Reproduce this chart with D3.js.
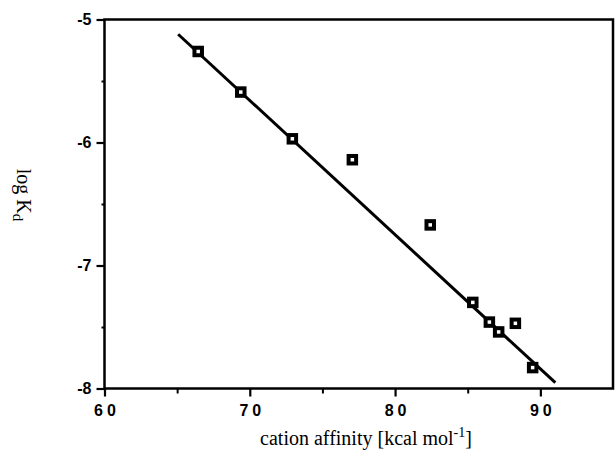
<!DOCTYPE html>
<html>
<head>
<meta charset="utf-8">
<script src="https://cdn.jsdelivr.net/npm/d3@7"></script>
<style>
  html, body { margin: 0; padding: 0; background: #fff; }
  svg { display: block; }
</style>
</head>
<body>
<script>
// ---- data ----
const cationAffinity = [66.45, 69.38, 72.93, 77.06, 82.42, 85.35, 86.49, 87.13, 88.28, 89.47];
const logKd          = [-5.26, -5.59, -5.97, -6.14, -6.67, -7.30, -7.46, -7.54, -7.47, -7.83];
const fitX = [65.07, 91.03];
const fitY = [-5.12, -7.953];
const xTicks = [60, 70, 80, 90];
const xMinorTicks = [65, 75, 85];
const yTicks = [-5, -6, -7, -8];
const yMinorTicks = [-5.5, -6.5, -7.5];

const W = 615, H = 456;
const svg = d3.select("body").append("svg").attr("width", W).attr("height", H);

const x = d3.scaleLinear().domain([60, 95]).range([104.5, 613]);
const y = d3.scaleLinear().domain([-5, -8]).range([19.5, 388.5]);

const g = svg.append("g");
const fmt = d => String(d);

// frame
g.append("rect")
  .attr("x", x(60)).attr("y", y(-5))
  .attr("width", x(95) - x(60)).attr("height", y(-8) - y(-5))
  .attr("fill", "none").attr("stroke", "#000").attr("stroke-width", 2.5);

// x axis
const xAxis = g.append("g").attr("transform", `translate(0,${y(-8)})`)
  .call(d3.axisBottom(x).tickValues(xTicks).tickSize(8).tickPadding(8).tickFormat(fmt));
xAxis.select(".domain").remove();
xAxis.selectAll(".tick line").attr("stroke-width", 2.2);
xAxis.selectAll("text")
  .attr("font-family", "Liberation Sans, Arial, sans-serif")
  .attr("font-weight", "bold").attr("font-size", 16)
  .attr("letter-spacing", 4).attr("dx", 2).attr("fill", "#000");
g.append("g").attr("transform", `translate(0,${y(-8)})`)
  .call(d3.axisBottom(x).tickValues(xMinorTicks).tickSize(5).tickFormat(""))
  .call(a => a.select(".domain").remove())
  .selectAll(".tick line").attr("stroke-width", 2);

// y axis
const yAxis = g.append("g").attr("transform", `translate(${x(60)},0)`)
  .call(d3.axisLeft(y).tickValues(yTicks).tickSize(8).tickPadding(5).tickFormat(fmt));
yAxis.select(".domain").remove();
yAxis.selectAll(".tick line").attr("stroke-width", 2.2);
yAxis.selectAll("text")
  .attr("font-family", "Liberation Sans, Arial, sans-serif")
  .attr("font-weight", "bold").attr("font-size", 16).attr("fill", "#000");
g.append("g").attr("transform", `translate(${x(60)},0)`)
  .call(d3.axisLeft(y).tickValues(yMinorTicks).tickSize(3).tickFormat(""))
  .call(a => a.select(".domain").remove())
  .selectAll(".tick line").attr("stroke-width", 2);

// fit line
g.append("path")
  .datum(fitX.map((v, i) => [v, fitY[i]]))
  .attr("d", d3.line().x(d => x(d[0])).y(d => y(d[1])))
  .attr("fill", "none").attr("stroke", "#000").attr("stroke-width", 3);

// markers
const pts = cationAffinity.map((v, i) => [v, logKd[i]]);
const s = 7.5;
g.selectAll("rect.pt").data(pts).enter().append("rect")
  .attr("class", "pt")
  .attr("x", d => x(d[0]) - s / 2).attr("y", d => y(d[1]) - s / 2)
  .attr("width", s).attr("height", s)
  .attr("fill", "#fff").attr("stroke", "#000").attr("stroke-width", 4);

// x title
const xt = svg.append("text")
  .attr("x", 366).attr("y", 445)
  .attr("text-anchor", "middle")
  .attr("font-family", "Liberation Serif, Times New Roman, serif")
  .attr("font-size", 20).attr("fill", "#000");
xt.append("tspan").text("cation affinity [kcal mol");
xt.append("tspan").attr("font-size", 14).attr("dy", -8).text("-1");
xt.append("tspan").attr("dy", 8).text("]");

// y title
const yt = svg.append("text")
  .attr("transform", "translate(17,195) rotate(90)")
  .attr("text-anchor", "middle")
  .attr("font-family", "Liberation Serif, Times New Roman, serif")
  .attr("font-size", 20).attr("fill", "#000");
yt.append("tspan").text("log K");
yt.append("tspan").attr("font-size", 15).attr("dy", 4).text("d");
</script>
</body>
</html>
